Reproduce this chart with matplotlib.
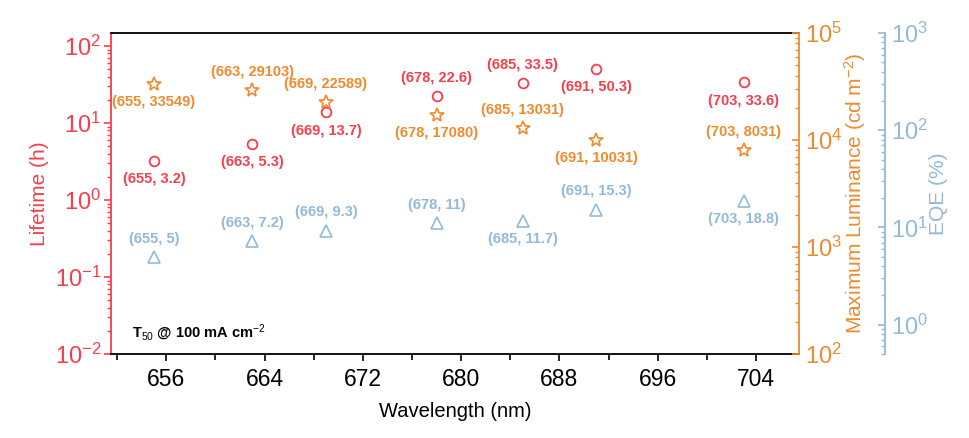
import matplotlib
matplotlib.use("Agg")
import matplotlib.pyplot as plt
from matplotlib.ticker import LogLocator, FixedLocator, MultipleLocator, NullFormatter

plt.rcParams['font.family'] = ['Liberation Sans', 'DejaVu Sans']
plt.rcParams['mathtext.fontset'] = 'custom'
plt.rcParams['mathtext.rm'] = 'Liberation Sans'
plt.rcParams['mathtext.it'] = 'Liberation Sans:italic'
plt.rcParams['mathtext.bf'] = 'Liberation Sans:bold'

# ---- data ----
wavelength = [655, 663, 669, 678, 685, 691, 703]
lifetime = [3.2, 5.3, 13.7, 22.6, 33.5, 50.3, 33.6]
luminance = [33549, 29103, 22589, 17080, 13031, 10031, 8031]
eqe = [5, 7.2, 9.3, 11, 11.7, 15.3, 18.8]
xticks = [656, 664, 672, 680, 688, 696, 704]

# label placement (+1 above, -1 below)
life_pos = [-1, -1, -1, 1, 1, -1, -1]
lum_pos = [-1, 1, 1, -1, 1, -1, 1]
eqe_pos = [1, 1, 1, 1, -1, 1, -1]

RED = '#F73E4C'
ORANGE = '#F08A2E'
BLUE = '#92BAD8'

fig = plt.figure(figsize=(9.7, 4.38), dpi=100)
ax = fig.add_axes([111/970, 84/438, 688/970, 321/438])
ax2 = ax.twinx()
ax3 = ax.twinx()

# left axis
ax.set_yscale('log')
ax.set_ylim(0.01, 147.6)
ax.set_xlim(651.5, 707.5)
ax.plot(wavelength, lifetime, ls='none', marker='o', ms=7, mfc='none', mec=RED, mew=1.3)
ax.set_ylabel('Lifetime (h)', color=RED, fontsize=15, labelpad=4)
ax.set_xlabel('Wavelength (nm)', fontsize=14.5, labelpad=8)
ax.xaxis.set_major_locator(FixedLocator(xticks))
ax.xaxis.set_minor_locator(MultipleLocator(4))
ax.tick_params(axis='x', which='major', direction='out', length=5, width=1.2, labelsize=16.5, pad=5)
ax.tick_params(axis='x', which='minor', direction='out', length=4, width=1.2)
ax.yaxis.set_major_locator(LogLocator(base=10, numticks=10))
ax.yaxis.set_minor_locator(LogLocator(base=10, subs=range(2, 10), numticks=20))
ax.yaxis.set_minor_formatter(NullFormatter())
ax.tick_params(axis='y', which='major', direction='out', length=5, width=1.2, colors=RED, labelsize=17, pad=2)
ax.tick_params(axis='y', which='minor', direction='out', length=3, width=1, colors=RED)
ax.spines['left'].set_color(RED)
ax.spines['left'].set_linewidth(1.3)
for s in ['top', 'bottom']:
    ax.spines[s].set_linewidth(1.3)
    ax.spines[s].set_color('black')
ax.spines['right'].set_visible(False)

# orange axis
ax2.set_yscale('log')
ax2.set_ylim(100, 1e5)
ax2.plot(wavelength, luminance, ls='none', marker='*', ms=10, mfc='none', mec=ORANGE, mew=1.2)
ax2.yaxis.set_major_locator(LogLocator(base=10, numticks=10))
ax2.yaxis.set_minor_locator(LogLocator(base=10, subs=range(2, 10), numticks=20))
ax2.yaxis.set_minor_formatter(NullFormatter())
ax2.tick_params(axis='y', which='major', direction='in', length=5, width=1.2, colors=ORANGE, labelsize=17, pad=4)
ax2.tick_params(axis='y', which='minor', direction='in', length=3, width=1, colors=ORANGE)
ax2.spines['right'].set_color(ORANGE)
ax2.spines['right'].set_linewidth(1.3)
for s in ['top', 'bottom', 'left']:
    ax2.spines[s].set_visible(False)
ax2.set_ylabel('Maximum Luminance (cd m$^{-2}$)', color=ORANGE, fontsize=15, labelpad=0)

# blue axis
ax3.set_yscale('log')
ax3.set_ylim(0.5, 1000)
ax3.spines['right'].set_position(('axes', 1 + 86/688))
ax3.plot(wavelength, eqe, ls='none', marker='^', ms=9, mfc='none', mec=BLUE, mew=1.2)
ax3.yaxis.set_major_locator(LogLocator(base=10, numticks=10))
ax3.yaxis.set_minor_locator(LogLocator(base=10, subs=range(2, 10), numticks=20))
ax3.yaxis.set_minor_formatter(NullFormatter())
ax3.tick_params(axis='y', which='major', direction='in', length=5, width=1.2, colors=BLUE, labelsize=17, pad=4)
ax3.tick_params(axis='y', which='minor', direction='in', length=3, width=1, colors=BLUE)
ax3.spines['right'].set_color(BLUE)
ax3.spines['right'].set_linewidth(1.3)
for s in ['top', 'bottom', 'left']:
    ax3.spines[s].set_visible(False)
ax3.set_ylabel('EQE (%)', color=BLUE, fontsize=15, labelpad=1)

# annotations
def annotate(axis, xs, ys, pos, color):
    for x, y, p in zip(xs, ys, pos):
        axis.annotate(f'({x}, {y})', (x, y), xytext=(0, 13 * p), textcoords='offset points',
                      ha='center', va='center', fontsize=10.5, fontweight='bold', color=color)

annotate(ax, wavelength, lifetime, life_pos, RED)
annotate(ax2, wavelength, luminance, lum_pos, ORANGE)
annotate(ax3, wavelength, eqe, eqe_pos, BLUE)

ax.text(0.03, 0.065, 'T$_{50}$ @ 100 mA cm$^{-2}$', transform=ax.transAxes, fontsize=10.5,
        fontweight='bold', color='black', ha='left', va='center')

fig.savefig('out.png', dpi=100)
